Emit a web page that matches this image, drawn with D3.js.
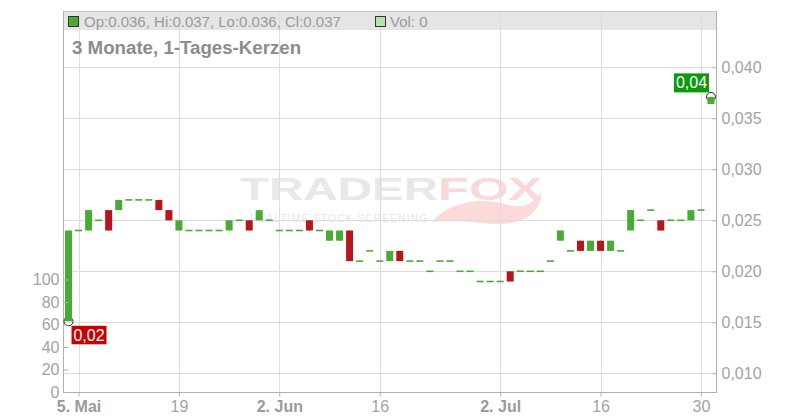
<!DOCTYPE html>
<html><head><meta charset="utf-8">
<script src="https://cdn.jsdelivr.net/npm/d3@7"></script>
<style>
html,body{margin:0;padding:0;background:#fff;}
svg{display:block;font-family:"Liberation Sans",Arial,sans-serif;}
</style></head>
<body>
<svg id="chart" width="800" height="420"></svg>
<script>
// ---- data ----
const dates = [
 "2025-05-02","2025-05-05","2025-05-06","2025-05-07","2025-05-08","2025-05-09",
 "2025-05-12","2025-05-13","2025-05-14","2025-05-15","2025-05-16",
 "2025-05-19","2025-05-20","2025-05-21","2025-05-22","2025-05-23",
 "2025-05-26","2025-05-27","2025-05-28","2025-05-29","2025-05-30",
 "2025-06-02","2025-06-03","2025-06-04","2025-06-05","2025-06-06",
 "2025-06-09","2025-06-10","2025-06-11","2025-06-12","2025-06-13",
 "2025-06-16","2025-06-17","2025-06-18","2025-06-19","2025-06-20",
 "2025-06-23","2025-06-24","2025-06-25","2025-06-26","2025-06-27",
 "2025-06-30","2025-07-01","2025-07-02","2025-07-03","2025-07-04",
 "2025-07-07","2025-07-08","2025-07-09","2025-07-10","2025-07-11",
 "2025-07-14","2025-07-15","2025-07-16","2025-07-17","2025-07-18",
 "2025-07-21","2025-07-22","2025-07-23","2025-07-24","2025-07-25",
 "2025-07-28","2025-07-29","2025-07-30","2025-07-31"
];
const openValues = [
 0.0151,0.024,0.024,0.025,0.026,0.026,
 0.027,0.027,0.027,0.027,0.026,
 0.024,0.024,0.024,0.024,0.024,
 0.024,0.025,0.025,0.025,0.025,
 0.024,0.024,0.024,0.025,0.024,
 0.023,0.023,0.024,0.021,0.022,
 0.021,0.021,0.022,0.021,0.021,
 0.020,0.021,0.021,0.020,0.020,
 0.019,0.019,0.019,0.020,0.020,
 0.020,0.020,0.021,0.023,0.022,
 0.023,0.022,0.023,0.022,0.022,
 0.024,0.025,0.026,0.025,0.025,
 0.025,0.025,0.026,0.0364
];
const closeValues = [
 0.024,0.024,0.026,0.025,0.024,0.027,
 0.027,0.027,0.027,0.026,0.025,
 0.025,0.024,0.024,0.024,0.024,
 0.025,0.025,0.024,0.026,0.025,
 0.024,0.024,0.024,0.024,0.024,
 0.024,0.024,0.021,0.021,0.022,
 0.021,0.022,0.021,0.021,0.021,
 0.020,0.021,0.021,0.020,0.020,
 0.019,0.019,0.019,0.019,0.020,
 0.020,0.020,0.021,0.024,0.022,
 0.022,0.023,0.022,0.023,0.022,
 0.026,0.025,0.026,0.024,0.025,
 0.025,0.026,0.026,0.0371
];
const highValues = openValues.map((o,i)=>Math.max(o,closeValues[i]));
const lowValues  = openValues.map((o,i)=>Math.min(o,closeValues[i]));
const volumeValues = dates.map(()=>0);

const priceTicks = [0.010,0.015,0.020,0.025,0.030,0.035,0.040];
const volumeTicks = [0,20,40,60,80,100];
const xTickDates = ["2025-05-05","2025-05-19","2025-06-02","2025-06-16","2025-07-02","2025-07-16","2025-07-30"];
const xTickLabels = ["5. Mai","19","2. Jun","16","2. Jul","16","30"];
const xTickBold = [true,false,true,false,true,false,false];
const titleText = "3 Monate, 1-Tages-Kerzen";

// ---- layout ----
const L = 63.5, R = 716, T = 11, B = 392, bandH = 19;
const GREEN = "#4aab34", RED = "#b5161b", GRID = "#dcdcdc", AXIS = "#b0b0b0", TXT = "#a3a3a3";

const de = d3.formatLocale({decimal:",",thousands:".",grouping:[3],currency:["","€"]});
const fmt3 = de.format(".3f"), fmt2 = de.format(".2f");

const svg = d3.select("#chart");
const x = d3.scaleBand().domain(dates).range([L, R]).padding(0);
const xc = d => x(d) + x.bandwidth()/2;
const y = d3.scaleLinear().domain([0.010, 0.040]).range([373.3, 67.3]);
const yv = d3.scaleLinear().domain([0, 100]).range([B, 279.5]);

// header band
svg.append("rect").attr("x",L).attr("y",T).attr("width",R-L).attr("height",bandH).attr("fill","#e5e5e5");

// watermark
const wm = svg.append("g").attr("class","watermark");
wm.append("path")
  .attr("d","M432,222 C446,204 478,196 505,204 C520,209 533,206 541,192 C542,212 524,224 500,224 C478,224 456,218 432,222 Z")
  .attr("fill","#fcdada");
wm.append("text").attr("x",240).attr("y",200).attr("textLength",198).attr("lengthAdjust","spacingAndGlyphs")
  .attr("font-size",32).attr("font-weight",900).attr("fill","#e8e8e8").text("TRADER");
wm.append("text").attr("x",438).attr("y",200).attr("textLength",104).attr("lengthAdjust","spacingAndGlyphs")
  .attr("font-size",32).attr("font-weight",900).attr("fill","#fcd9d9").text("FOX");
wm.append("text").attr("x",250).attr("y",222).attr("textLength",177).attr("lengthAdjust","spacing")
  .attr("font-size",10).attr("fill","#e6e6e6").text("REALTIME STOCK SCREENING");

// gridlines
svg.append("g").selectAll("line.h").data(priceTicks).join("line")
  .attr("x1",L).attr("x2",R).attr("y1",d=>Math.round(y(d))+0.5).attr("y2",d=>Math.round(y(d))+0.5)
  .attr("stroke",GRID).attr("stroke-width",1);
svg.append("g").selectAll("line.v").data(xTickDates).join("line")
  .attr("x1",d=>Math.round(xc(d))+0.5).attr("x2",d=>Math.round(xc(d))+0.5).attr("y1",T).attr("y2",B)
  .attr("stroke",GRID).attr("stroke-width",1);

// frame
svg.append("line").attr("x1",L).attr("x2",R).attr("y1",T+0.5).attr("y2",T+0.5).attr("stroke","#c8c8c8");
svg.append("line").attr("x1",63.5).attr("x2",63.5).attr("y1",T).attr("y2",B).attr("stroke",AXIS);
svg.append("line").attr("x1",716.5).attr("x2",716.5).attr("y1",T).attr("y2",B).attr("stroke",AXIS);
svg.append("line").attr("x1",63).attr("x2",717).attr("y1",B+0.5).attr("y2",B+0.5).attr("stroke",AXIS);

// header legend
const hdr = svg.append("g");
const last = dates.length-1;
hdr.append("rect").attr("x",68.5).attr("y",16.5).attr("width",10).attr("height",10)
  .attr("fill",GREEN).attr("stroke","#333");
hdr.append("text").attr("x",84).attr("y",27).attr("font-size",15).attr("fill","#9a9a9a")
  .text(`Op:${d3.format(".3f")(openValues[last])}, Hi:${d3.format(".3f")(highValues[last])}, Lo:${d3.format(".3f")(lowValues[last])}, Cl:${d3.format(".3f")(closeValues[last])}`);
hdr.append("rect").attr("x",375.5).attr("y",16.5).attr("width",10).attr("height",10)
  .attr("fill","#b8e2b0").attr("stroke","#333");
hdr.append("text").attr("x",390).attr("y",27).attr("font-size",15).attr("fill","#9a9a9a")
  .text(`Vol: ${volumeValues[last]}`);
svg.append("text").attr("x",72).attr("y",54).attr("font-size",18.7).attr("font-weight","bold")
  .attr("fill","#8c8c8c").text(titleText);

// volume bars (all zero)
svg.append("g").selectAll("rect").data(dates).join("rect")
  .attr("x",d=>xc(d)-3.5).attr("width",7)
  .attr("y",(d,i)=>yv(volumeValues[i])).attr("height",(d,i)=>B-yv(volumeValues[i]))
  .attr("fill","#b8e2b0");

// markers (under candles)
const minIdx = d3.minIndex(lowValues);
const markers = svg.append("g");
markers.append("circle").attr("cx",xc(dates[minIdx])).attr("cy",y(lowValues[minIdx])).attr("r",4.5)
  .attr("fill","none").attr("stroke","#222").attr("stroke-width",1);
markers.append("circle").attr("cx",xc(dates[last])).attr("cy",y(highValues[last])).attr("r",4.5)
  .attr("fill","none").attr("stroke","#222").attr("stroke-width",1);

// candles
const cg = svg.append("g");
dates.forEach((d,i)=>{
  const o=openValues[i], c=closeValues[i], h=highValues[i], l=lowValues[i];
  const col = c>=o ? GREEN : RED;
  const cx = xc(d);
  cg.append("line").attr("x1",cx).attr("x2",cx).attr("y1",y(h)).attr("y2",y(l)).attr("stroke",col);
  const top = y(Math.max(o,c)), bot = y(Math.min(o,c));
  const hgt = Math.max(bot-top, 1.6);
  cg.append("rect").attr("x",cx-3.5).attr("width",7)
    .attr("y", bot-top<1.6 ? top-0.8 : top).attr("height",hgt).attr("fill",col);
});

// value labels
const lastX = xc(dates[last]), lastY = y(highValues[last]);
svg.append("rect").attr("x",lastX-37).attr("y",lastY-23.5).attr("width",35).attr("height",19).attr("fill","#0a9a0a");
svg.append("text").attr("x",lastX-19.5).attr("y",lastY-8.5).attr("text-anchor","middle").attr("font-size",16)
  .attr("fill","#fff").text(fmt2(closeValues[last]));
const minX = xc(dates[minIdx]), minY = y(lowValues[minIdx]);
svg.append("rect").attr("x",minX+3).attr("y",minY+4.5).attr("width",35).attr("height",18.5).attr("fill","#cc0000");
svg.append("text").attr("x",minX+20.5).attr("y",minY+19.5).attr("text-anchor","middle").attr("font-size",16)
  .attr("fill","#fff").text(fmt2(lowValues[minIdx]));

// right price axis
const ay = svg.append("g").attr("transform","translate(716.5,0)")
  .call(d3.axisRight(y).tickValues(priceTicks).tickFormat(fmt3).tickSizeInner(-4).tickSizeOuter(0).tickPadding(5));
ay.select(".domain").remove();
ay.selectAll(".tick line").attr("stroke",AXIS);
ay.selectAll("text").attr("font-size",16).attr("fill",TXT).attr("font-family","Liberation Sans, Arial, sans-serif");

// left volume axis
const av = svg.append("g").attr("transform","translate(63.5,0)")
  .call(d3.axisLeft(yv).tickValues(volumeTicks).tickSizeInner(-5).tickSizeOuter(0).tickPadding(4));
av.select(".domain").remove();
av.selectAll(".tick line").attr("stroke",AXIS);
av.selectAll("text").attr("font-size",16).attr("fill",TXT).attr("font-family","Liberation Sans, Arial, sans-serif");

// bottom axis
const xAxisScale = d3.scalePoint().domain(dates).range([xc(dates[0]), xc(dates[last])]);
const ax = svg.append("g").attr("transform",`translate(0,${B+0.5})`)
  .call(d3.axisBottom(xAxisScale).tickValues(xTickDates)
    .tickFormat(d=>xTickLabels[xTickDates.indexOf(d)]).tickSizeInner(4).tickSizeOuter(0).tickPadding(4));
ax.select(".domain").remove();
ax.selectAll(".tick line").attr("stroke",AXIS);
ax.selectAll("text").attr("font-size",16).attr("font-family","Liberation Sans, Arial, sans-serif")
  .attr("fill",(d)=>xTickBold[xTickDates.indexOf(d)]?"#9a9a9a":TXT)
  .attr("font-weight",(d)=>xTickBold[xTickDates.indexOf(d)]?"bold":"normal");
</script>
</body></html>
